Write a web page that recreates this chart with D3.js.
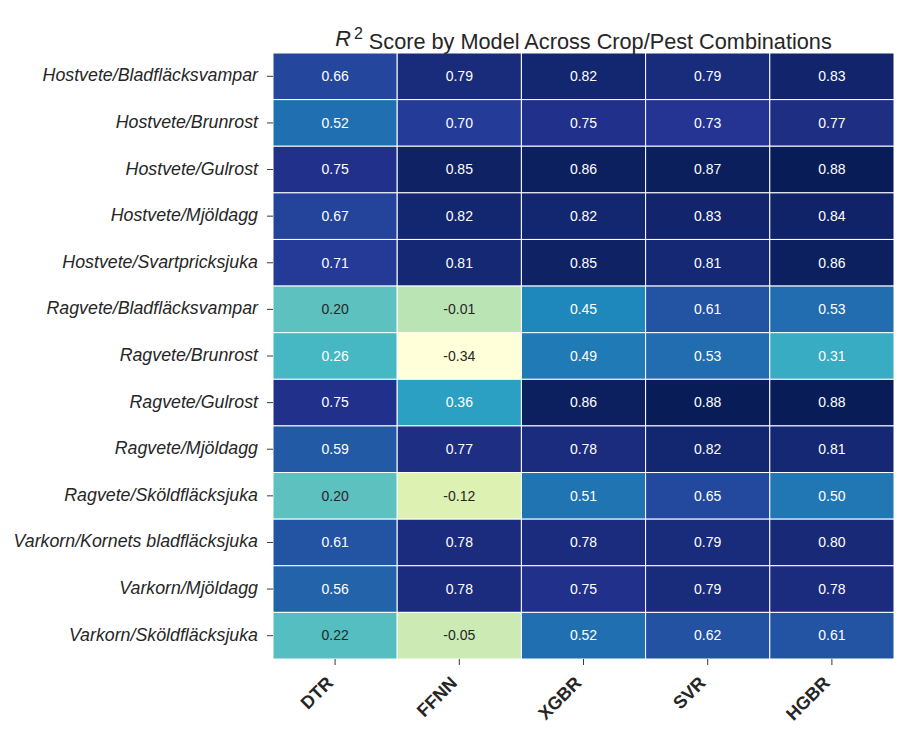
<!DOCTYPE html>
<html>
<head>
<meta charset="utf-8">
<script src="https://cdn.jsdelivr.net/npm/d3@7"></script>
<style>
  body { margin: 0; background: #fff; }
  svg { font-family: "Liberation Sans", Arial, sans-serif; }
</style>
</head>
<body>
<div id="chart"></div>
<script>
const w = 910;
const h = 741;

const models = ['DTR', 'FFNN', 'XGBR', 'SVR', 'HGBR'];
const combos = [
	'Hostvete/Bladfläcksvampar',
	'Hostvete/Brunrost',
	'Hostvete/Gulrost',
	'Hostvete/Mjöldagg',
	'Hostvete/Svartpricksjuka',
	'Ragvete/Bladfläcksvampar',
	'Ragvete/Brunrost',
	'Ragvete/Gulrost',
	'Ragvete/Mjöldagg',
	'Ragvete/Sköldfläcksjuka',
	'Varkorn/Kornets bladfläcksjuka',
	'Varkorn/Mjöldagg',
	'Varkorn/Sköldfläcksjuka'
];

// one array per model, in the order of combos
const dtr = [0.66, 0.52, 0.75, 0.67, 0.71, 0.20, 0.26, 0.75, 0.59, 0.20, 0.61, 0.56, 0.22];
const ffnn = [0.79, 0.70, 0.85, 0.82, 0.81, -0.01, -0.34, 0.36, 0.77, -0.12, 0.78, 0.78, -0.05];
const xgbr = [0.82, 0.75, 0.86, 0.82, 0.85, 0.45, 0.49, 0.86, 0.78, 0.51, 0.78, 0.75, 0.52];
const svr = [0.79, 0.73, 0.87, 0.83, 0.81, 0.61, 0.53, 0.88, 0.82, 0.65, 0.79, 0.79, 0.62];
const hgbr = [0.83, 0.77, 0.88, 0.84, 0.86, 0.53, 0.31, 0.88, 0.81, 0.50, 0.80, 0.78, 0.61];

const series = [dtr, ffnn, xgbr, svr, hgbr];

const cells = [];
combos.forEach((c, i) => {
	models.forEach((m, j) => {
		cells.push({combo: c, model: m, value: series[j][i]});
	});
});

const mLeft = 273;
const mRight = 894;
const mTop = 53;
const mBottom = 659;

const svg = d3
	.select('#chart')
	.append('svg')
	.attr('width', w)
	.attr('height', h);

const xScale = d3.scaleBand().domain(models).range([mLeft, mRight]);
const yScale = d3.scaleBand().domain(combos).range([mTop, mBottom]);

// matplotlib YlGnBu = linear through the 9 colorbrewer stops
const allValues = cells.map(d => d.value);
const [vmin, vmax] = d3.extent(allValues);
const stops = d3.schemeYlGnBu[9];
const color = d3
	.scaleLinear()
	.domain(stops.map((s, i) => vmin + ((vmax - vmin) * i) / (stops.length - 1)))
	.range(stops)
	.interpolate(d3.interpolateRgb);

function luminance(c) {
	const rgb = d3.rgb(c);
	const lin = v => {
		v = v / 255;
		return v <= 0.03928 ? v / 12.92 : Math.pow((v + 0.055) / 1.055, 2.4);
	};
	return 0.2126 * lin(rgb.r) + 0.7152 * lin(rgb.g) + 0.0722 * lin(rgb.b);
}

svg
	.selectAll('rect.cell')
	.data(cells)
	.enter()
	.append('rect')
	.attr('class', 'cell')
	.attr('x', d => xScale(d.model))
	.attr('y', d => yScale(d.combo))
	.attr('width', xScale.bandwidth())
	.attr('height', yScale.bandwidth())
	.attr('fill', d => color(d.value))
	.attr('stroke', '#fff')
	.attr('stroke-width', 1);

svg
	.selectAll('text.val')
	.data(cells)
	.enter()
	.append('text')
	.attr('class', 'val')
	.attr('x', d => xScale(d.model) + xScale.bandwidth() / 2)
	.attr('y', d => yScale(d.combo) + yScale.bandwidth() / 2)
	.attr('dy', '0.34em')
	.style('text-anchor', 'middle')
	.style('font-size', '14px')
	.attr('fill', d => (luminance(color(d.value)) > 0.408 ? '#262626' : '#fff'))
	.text(d => d.value.toFixed(2));

const yAxis = d3.axisLeft(yScale).tickSize(6).tickPadding(9);
const gy = svg
	.append('g')
	.attr('transform', `translate(${mLeft}, 0)`)
	.call(yAxis);
gy.select('.domain').remove();
gy.selectAll('.tick line').attr('stroke', '#3a3a3a').attr('stroke-width', 1);
gy.selectAll('.tick text')
	.attr('fill', '#262626')
	.attr('dy', '0.28em')
	.style('font-size', '17.8px')
	.style('font-style', 'italic')
	.style('font-family', '"Liberation Sans", Arial, sans-serif');

const xAxis = d3.axisBottom(xScale).tickSize(6).tickPadding(6);
const gx = svg
	.append('g')
	.attr('transform', `translate(0, ${mBottom})`)
	.call(xAxis);
gx.select('.domain').remove();
gx.selectAll('.tick line').attr('stroke', '#3a3a3a').attr('stroke-width', 1);
gx.selectAll('.tick text')
	.attr('fill', '#262626')
	.attr('y', 0)
	.attr('dy', 0)
	.attr('transform', 'translate(-1, 25) rotate(-45)')
	.style('text-anchor', 'end')
	.style('font-size', '18px')
	.style('font-weight', 'bold')
	.style('font-family', '"Liberation Sans", Arial, sans-serif');

const title = svg
	.append('text')
	.attr('x', (mLeft + mRight) / 2)
	.attr('y', 46)
	.style('text-anchor', 'middle')
	.style('font-size', '21.7px')
	.attr('fill', '#262626');
title.append('tspan').style('font-style', 'italic').text('R');
title.append('tspan').attr('dx', 3).attr('dy', '-0.45em').style('font-size', '16px').text('2');
title.append('tspan').attr('dy', '0.45em').text(' Score by Model Across Crop/Pest Combinations');
</script>
</body>
</html>
